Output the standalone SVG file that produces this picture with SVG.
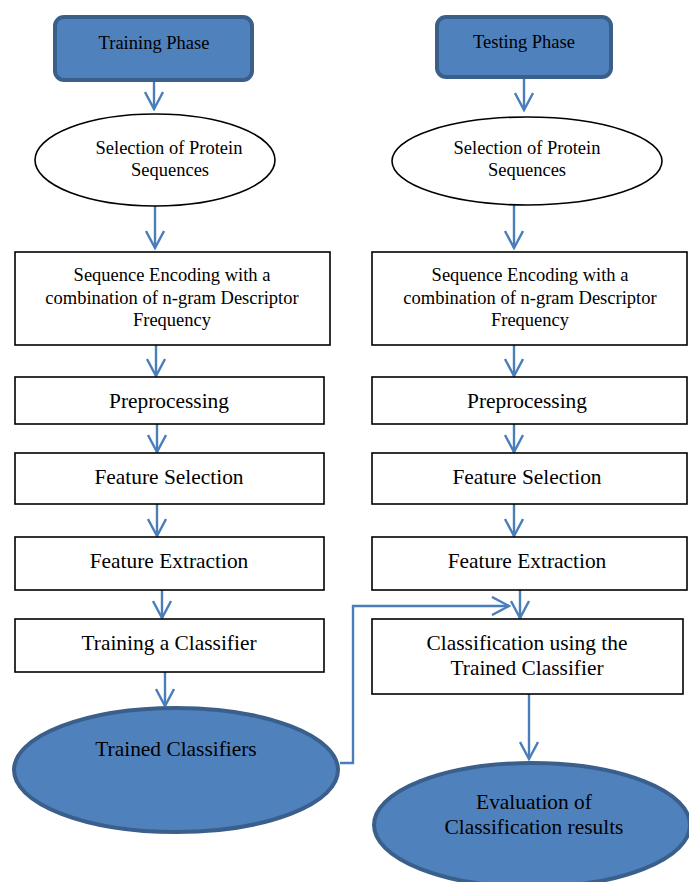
<svg xmlns="http://www.w3.org/2000/svg" width="689" height="882" viewBox="0 0 689 882">
<defs>
<marker id="av" viewBox="0 0 20 20" refX="10" refY="18" markerWidth="20" markerHeight="20" markerUnits="userSpaceOnUse">
<path d="M1,1 L10,18 L19,1" fill="none" stroke="#4A7EBB" stroke-width="2.4"/>
</marker>
<marker id="ar" viewBox="0 0 20 20" refX="18" refY="10" markerWidth="20" markerHeight="20" markerUnits="userSpaceOnUse">
<path d="M1,1 L18,10 L1,19" fill="none" stroke="#4A7EBB" stroke-width="2.4"/>
</marker>
<style>
.s{font-size:18.5px}
.m{font-size:21.4px}
.box{fill:#fff;stroke:#000;stroke-width:1.6}
.ell{fill:#fff;stroke:#000;stroke-width:1.6}
.blue{fill:#4F81BD;stroke:#3A5F8B;stroke-width:4}
.c{fill:none;stroke:#4A7EBB;stroke-width:2.4;marker-end:url(#av)}
.cr{fill:none;stroke:#4A7EBB;stroke-width:2.4;marker-end:url(#ar)}
</style>
</defs>
<rect width="689" height="882" fill="#fff"/>
<g id="connectors">
<path class="c" d="M154,82 V109"/>
<path class="c" d="M524,78 V110"/>
<path class="c" d="M155,205 V248"/>
<path class="c" d="M514,205 V248"/>
<path class="c" d="M156,345 V376"/>
<path class="c" d="M514,345 V376"/>
<path class="c" d="M157,424 V452"/>
<path class="c" d="M514,424 V452"/>
<path class="c" d="M157,504 V536"/>
<path class="c" d="M514,504 V536"/>
<path class="c" d="M162,590 V618"/>
<path class="c" d="M520,590 V618"/>
<path class="c" d="M165,672 V706"/>
<path class="c" d="M529,694 V759"/>
<path class="cr" d="M340,763 H353 V606 H509"/>
</g>
<g font-family="'Liberation Serif','Times New Roman','DejaVu Serif',serif" text-anchor="middle" fill="#000">
<g id="training-phase">
<rect class="blue" x="55" y="17" width="197" height="63" rx="9"/>
<text class="s" x="154" y="49">Training Phase</text>
</g>
<g id="testing-phase">
<rect class="blue" x="437" y="17" width="174" height="60" rx="9"/>
<text class="s" x="524" y="48">Testing Phase</text>
</g>
<g id="select-left">
<ellipse class="ell" cx="155" cy="160" rx="120" ry="46"/>
<text class="s" x="169" y="154">Selection of Protein</text>
<text class="s" x="170" y="176">Sequences</text>
</g>
<g id="select-right">
<ellipse class="ell" cx="527" cy="161" rx="135" ry="44"/>
<text class="s" x="527" y="154">Selection of Protein</text>
<text class="s" x="527" y="176">Sequences</text>
</g>
<g id="encode-left">
<rect class="box" x="15" y="252" width="315" height="93"/>
<text class="s" x="172" y="281">Sequence Encoding with a</text>
<text class="s" x="172" y="303.5">combination of n-gram Descriptor</text>
<text class="s" x="172" y="326">Frequency</text>
</g>
<g id="encode-right">
<rect class="box" x="372" y="252" width="315" height="93"/>
<text class="s" x="530" y="281">Sequence Encoding with a</text>
<text class="s" x="530" y="303.5">combination of n-gram Descriptor</text>
<text class="s" x="530" y="326">Frequency</text>
</g>
<g id="pre-left">
<rect class="box" x="15" y="377" width="309" height="47"/>
<text class="m" x="169" y="408">Preprocessing</text>
</g>
<g id="pre-right">
<rect class="box" x="372" y="377" width="315" height="47"/>
<text class="m" x="527" y="408">Preprocessing</text>
</g>
<g id="fs-left">
<rect class="box" x="15" y="453" width="309" height="51"/>
<text class="m" x="169" y="484">Feature Selection</text>
</g>
<g id="fs-right">
<rect class="box" x="372" y="453" width="315" height="51"/>
<text class="m" x="527" y="484">Feature Selection</text>
</g>
<g id="fe-left">
<rect class="box" x="15" y="537" width="309" height="53"/>
<text class="m" x="169" y="568">Feature Extraction</text>
</g>
<g id="fe-right">
<rect class="box" x="372" y="537" width="315" height="53"/>
<text class="m" x="527" y="568">Feature Extraction</text>
</g>
<g id="train-classifier">
<rect class="box" x="15" y="619" width="309" height="53"/>
<text class="m" x="169" y="650">Training a Classifier</text>
</g>
<g id="classify">
<rect class="box" x="372" y="619" width="311" height="75"/>
<text class="m" x="527" y="650">Classification using the</text>
<text class="m" x="527" y="675">Trained Classifier</text>
</g>
<g id="trained-classifiers">
<ellipse class="blue" cx="176" cy="770" rx="162" ry="62"/>
<text class="m" x="176" y="756">Trained Classifiers</text>
</g>
<g id="evaluation">
<ellipse class="blue" cx="532" cy="825" rx="158" ry="62"/>
<text class="m" x="534" y="809">Evaluation of</text>
<text class="m" x="534" y="834">Classification results</text>
</g>
</g>
</svg>
